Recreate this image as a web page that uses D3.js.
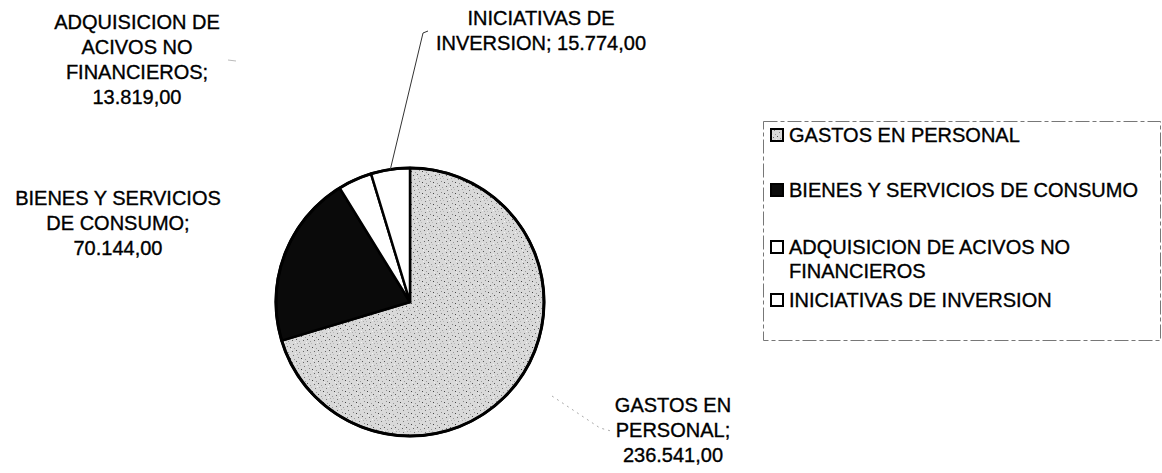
<!DOCTYPE html>
<html>
<head>
<meta charset="utf-8">
<script src="https://cdn.jsdelivr.net/npm/d3@7"></script>
<style>
  body { margin: 0; background: #fff; }
  svg { display: block; font-family: "Liberation Sans", Arial, sans-serif; }
  .lbl { font-size: 20px; fill: #000; stroke: #000; stroke-width: 0.35px; text-anchor: middle; }
  .leg { font-size: 20px; fill: #000; stroke: #000; stroke-width: 0.35px; }
</style>
</head>
<body>
<div id="chart"></div>
<script>
// data
const categories = ["GASTOS EN PERSONAL", "BIENES Y SERVICIOS DE CONSUMO",
    "ADQUISICION DE ACIVOS NO FINANCIEROS", "INICIATIVAS DE INVERSION"];
const values = [236541, 70144, 13819, 15774];
// how each data label / legend entry is broken into lines (%v = value)
const labelLines = [
    ["GASTOS EN", "PERSONAL;", "%v"],
    ["BIENES Y SERVICIOS", "DE CONSUMO;", "%v"],
    ["ADQUISICION DE", "ACIVOS NO", "FINANCIEROS;", "%v"],
    ["INICIATIVAS DE", "INVERSION; %v"]
];
const legendLines = [
    ["GASTOS EN PERSONAL"],
    ["BIENES Y SERVICIOS DE CONSUMO"],
    ["ADQUISICION DE ACIVOS NO", "FINANCIEROS"],
    ["INICIATIVAS DE INVERSION"]
];

const width = 1162, height = 473;
const cx = 410, cy = 302, radius = 134;

// spanish number format 236.541,00
const fmt = d3.formatLocale({decimal: ",", thousands: ".", grouping: [3], currency: ["", ""]}).format(",.2f");

const svg = d3.select("#chart").append("svg")
    .attr("width", width)
    .attr("height", height);

svg.append("rect").attr("width", width).attr("height", height).attr("fill", "#fff");

// stipple pattern for the grey slice
const defs = svg.append("defs");
const pat = defs.append("pattern")
    .attr("id", "stipple")
    .attr("patternUnits", "userSpaceOnUse")
    .attr("width", 11).attr("height", 11);
pat.append("rect").attr("width", 11).attr("height", 11).attr("fill", "#d9d9d9");
[[1, 1, "#444"], [5, 2, "#999"], [3, 5, "#666"], [8, 8, "#aaa"], [0, 8, "#bbb"],
 [7, 4, "#555"], [9, 0, "#888"], [4, 9, "#777"], [10, 6, "#999"], [2, 3, "#eee"], [6, 7, "#f2f2f2"]]
    .forEach(p => pat.append("rect").attr("x", p[0]).attr("y", p[1])
        .attr("width", 1).attr("height", 1).attr("fill", p[2]));

const fills = ["url(#stipple)", "#0a0a0a", "#fff", "#fff"];

const pie = d3.pie().sort(null).value(d => d);
const arcs = pie(values);
const arc = d3.arc().innerRadius(0).outerRadius(radius);

const g = svg.append("g").attr("transform", `translate(${cx},${cy})`);

g.selectAll("path.slice")
    .data(arcs)
    .enter().append("path")
    .attr("class", "slice")
    .attr("d", arc)
    .attr("fill", (d, i) => fills[i])
    .attr("stroke", "#000")
    .attr("stroke-width", 2.5)
    .attr("stroke-linejoin", "round");

// outer ring a bit heavier
g.append("circle").attr("r", radius).attr("fill", "none")
    .attr("stroke", "#000").attr("stroke-width", 3);

// point on the rim at a slice's mid angle
function rimPoint(d, r) {
    const a = (d.startAngle + d.endAngle) / 2;
    return [cx + r * Math.sin(a), cy - r * Math.cos(a)];
}

// leader lines
const pInic = rimPoint(arcs[3], radius);
svg.append("path")
    .attr("d", d3.line()([pInic, [423, 33], [428, 31]]))
    .attr("fill", "none").attr("stroke", "#333").attr("stroke-width", 1);

svg.append("path")
    .attr("d", d3.line()([[552, 396], [600, 428], [611, 431]]))
    .attr("fill", "none").attr("stroke", "#aaa").attr("stroke-width", 1)
    .attr("stroke-dasharray", "2,4");

svg.append("path")
    .attr("d", d3.line()([[228, 60], [236, 61]]))
    .attr("fill", "none").attr("stroke", "#bbb").attr("stroke-width", 1);

// data labels: centre x and first-line middle y
const labelPos = [[673, 405], [118, 198], [137, 22], [541, 18]];
const lineH = 25;

labelLines.forEach((lines, i) => {
    const t = svg.append("text").attr("class", "lbl");
    lines.forEach((ln, j) => {
        t.append("tspan")
            .attr("x", labelPos[i][0])
            .attr("y", labelPos[i][1] + j * lineH + 7)
            .text(ln.replace("%v", fmt(values[i])));
    });
});

// legend
const legX = 763, legY = 121, legW = 397, legH = 219;
svg.append("rect")
    .attr("x", legX + 0.5).attr("y", legY + 0.5)
    .attr("width", legW).attr("height", legH)
    .attr("fill", "none").attr("stroke", "#777").attr("stroke-width", 1)
    .attr("stroke-dasharray", "14,3,4,3");

const legRowY = [135, 190, 247, 300];
const leg = svg.append("g");
categories.forEach((c, i) => {
    leg.append("rect")
        .attr("x", 771).attr("y", legRowY[i] - 6)
        .attr("width", 12).attr("height", 12)
        .attr("fill", fills[i])
        .attr("stroke", "#000").attr("stroke-width", 2);
    const t = leg.append("text").attr("class", "leg");
    legendLines[i].forEach((ln, j) => {
        t.append("tspan")
            .attr("x", 789)
            .attr("y", legRowY[i] + j * 24 + 7)
            .text(ln);
    });
});
</script>
</body>
</html>
